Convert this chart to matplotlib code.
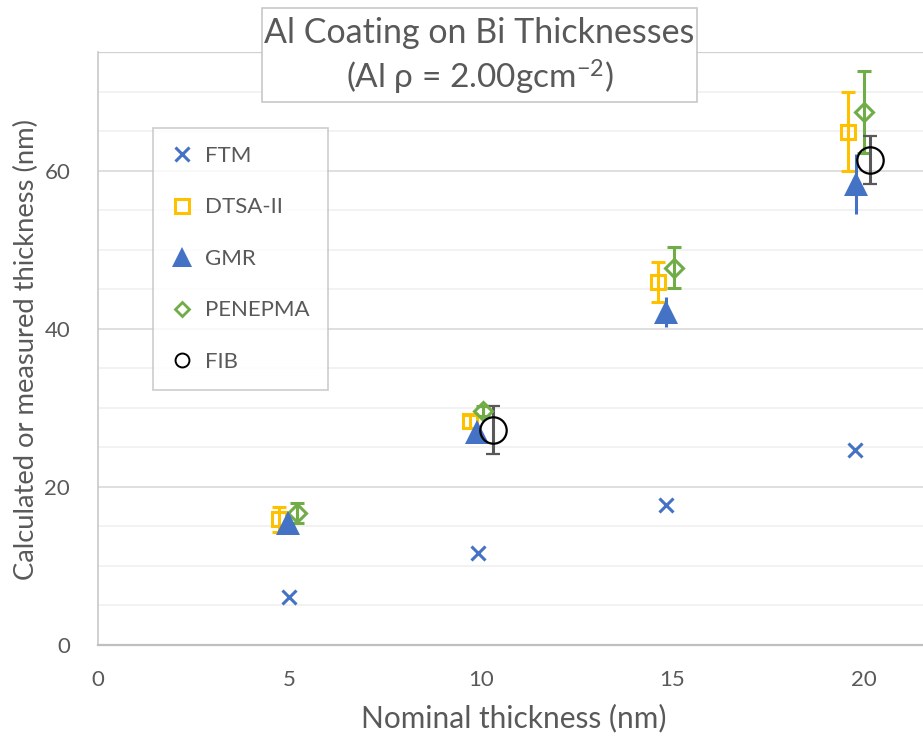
import matplotlib.pyplot as plt
from matplotlib.lines import Line2D
from matplotlib.patches import Rectangle

plt.rcParams["font.family"] = ["Lato", "DejaVu Sans"]
plt.rcParams["mathtext.fontset"] = "custom"
plt.rcParams["mathtext.rm"] = "Lato"
plt.rcParams["mathtext.it"] = "Lato:italic"

TEXT = "#595959"

# Nominal thickness (nm) and calculated / measured thickness (nm) per method
ftm_x = [4.99, 9.92, 14.83, 19.78]
ftm_y = [6.1, 11.6, 17.7, 24.7]

dtsa_x = [4.72, 9.71, 14.62, 19.58]
dtsa_y = [15.9, 28.3, 45.9, 64.9]
dtsa_err = [1.6, 0.8, 2.5, 5.0]

gmr_x = [4.97, 9.9, 14.83, 19.8]
gmr_y = [15.4, 26.9, 42.1, 58.3]
gmr_err = [0.0, 0.0, 1.9, 3.8]

pen_x = [5.2, 10.05, 15.04, 20.0]
pen_y = [16.7, 29.6, 47.7, 67.4]
pen_err = [1.3, 0.6, 2.6, 5.2]

fib_x = [10.31, 20.17]
fib_y = [27.2, 61.3]
fib_err = [3.0, 3.05]

labels = ["FTM", "DTSA-II", "GMR", "PENEPMA", "FIB"]
colors = ["#4472C4", "#FFC000", "#4472C4", "#70AD47", "#404040"]

fig = plt.figure(figsize=(9.23, 7.4), dpi=100)
ax = fig.add_axes([98 / 923, 95 / 740, 1 - 98 / 923, 593 / 740])

ax.set_xlim(0, 21.55)
ax.set_ylim(0, 75)
ax.set_xticks([0, 5, 10, 15, 20])
ax.set_yticks([0, 20, 40, 60])
ax.set_yticks(range(0, 76, 5), minor=True)
ax.grid(axis="y", which="major", color="#D9D9D9", lw=1.2)
ax.grid(axis="y", which="minor", color="#F0F0F0", lw=1.2)
ax.axhline(75, color="#D0D0D0", lw=1.6)
ax.set_axisbelow(True)
ax.tick_params(which="both", length=0, labelsize=16, labelcolor=TEXT)
ax.tick_params(axis="x", pad=18)
ax.tick_params(axis="y", pad=20)
for s in ["top", "right"]:
    ax.spines[s].set_visible(False)
ax.spines["left"].set_color("#C8C8C8")
ax.spines["bottom"].set_color("#BFBFBF")
ax.spines["left"].set_linewidth(1.2)
ax.spines["bottom"].set_linewidth(1.6)

eb = dict(ls="none", elinewidth=2.2, capsize=5, capthick=2.2, zorder=3)
ax.plot(ftm_x, ftm_y, ls="none", marker="x", ms=10, mew=2.2, color=colors[0], zorder=3)
ax.errorbar(dtsa_x, dtsa_y, yerr=dtsa_err, marker="s", ms=10, mfc="none", mew=2.2,
            color=colors[1], ecolor=colors[1], **eb)
ax.errorbar(pen_x, pen_y, yerr=pen_err, marker="D", ms=9, mfc="none", mew=2.2,
            color=colors[3], ecolor=colors[3], **eb)
ax.errorbar(gmr_x, gmr_y, yerr=gmr_err, marker="^", ms=17, mew=0,
            color=colors[2], ecolor=colors[2], **eb)
ax.errorbar(fib_x, fib_y, yerr=fib_err, marker="o", ms=19, mfc="none", mew=1.6,
            mec="black", ecolor="#595959", **eb)

# axis titles placed in figure coordinates
fig.text(514 / 923, 1 - 718 / 740, "Nominal thickness (nm)", ha="center", va="center",
         fontsize=21.5, color=TEXT)
fig.text(26 / 923, 1 - 350 / 740, "Calculated or measured thickness (nm)", ha="center",
         va="center", rotation=90, fontsize=19.7, color=TEXT)

handles = [
    Line2D([], [], ls="none", marker="x", ms=10, mew=2.2, color=colors[0]),
    Line2D([], [], ls="none", marker="s", ms=10, mfc="none", mew=2.2, color=colors[1]),
    Line2D([], [], ls="none", marker="^", ms=14, mew=0, color=colors[2]),
    Line2D([], [], ls="none", marker="D", ms=7, mfc="none", mew=2, color=colors[3]),
    Line2D([], [], ls="none", marker="o", ms=10, mfc="none", mew=1.4, color="black"),
]
leg = fig.legend(handles, labels, loc="upper left", bbox_to_anchor=(153 / 923, 1 - 128 / 740),
                 fontsize=16, labelcolor=TEXT, frameon=True, fancybox=False,
                 borderaxespad=0, labelspacing=1.42, handlelength=1.0, handletextpad=0.55,
                 borderpad=0.8)
leg.get_frame().set_edgecolor("#C0C0C0")
leg.get_frame().set_linewidth(1.2)

# title box
fig.patches.append(Rectangle((262 / 923, 1 - 102 / 740), 435 / 923, 94 / 740,
                             transform=fig.transFigure, fill=True, facecolor="white",
                             edgecolor="#C8C8C8", lw=1.2, zorder=5))
fig.text(479 / 923, 1 - 33 / 740, "Al Coating on Bi Thicknesses", ha="center", va="center",
         fontsize=24.5, color=TEXT, zorder=6)
fig.text(480 / 923, 1 - 77 / 740, r"(Al ρ = 2.00gcm$^{-2}$)", ha="center", va="center",
         fontsize=24, color=TEXT, zorder=6)

fig.savefig("out.png", dpi=100)
